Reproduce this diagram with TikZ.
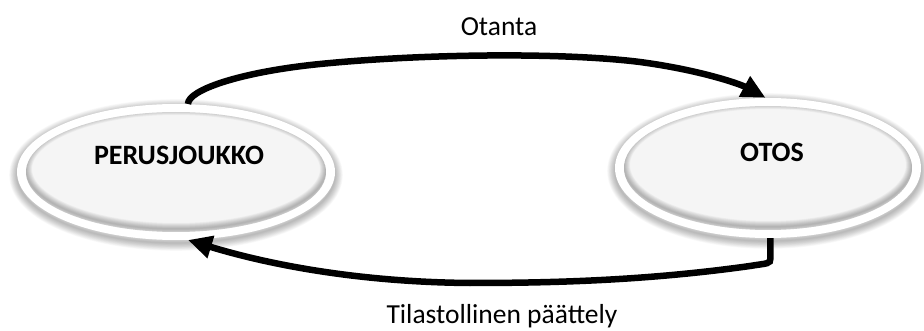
\documentclass[tikz,border=0pt]{standalone}
\usepackage{fontspec}
\setmainfont{Carlito}
\usetikzlibrary{shapes.geometric,arrows.meta}
\newcommand\myglow[4]{%
  \foreach \k in {1,...,12}{\draw[black,opacity=0.025,line width=\k*1.3pt] (#1,#2+3) ellipse ({#3pt} and {#4pt});}}
\newcommand\myinner[4]{%
  \begin{scope}
    \clip (#1,#2) ellipse ({#3pt} and {#4pt});
    \fill[black!4] (#1,#2) ellipse ({#3pt} and {#4pt});
    \foreach \k in {1,...,8}{\draw[black,opacity=0.035,line width=\k*1.5pt] (#1,#2-3) ellipse ({#3pt} and {#4pt});}
  \end{scope}}
\begin{document}
\begin{tikzpicture}[x=1pt,y=-1pt,
  blob/.style={ellipse, fill=white, inner sep=0pt, draw=none},
  lbl/.style={font=\fontsize{27.5}{33}\selectfont, inner sep=0pt},
  nodetxt/.style={font=\bfseries\fontsize{28}{33}\selectfont, inner sep=0pt},
  conn/.style={line width=6.5pt, -{Triangle[length=24pt,width=22pt]}},
]
\useasboundingbox[fill=white] (0,0) rectangle (924,331);
% left ellipse
\myglow{176}{172}{159}{68}
\node[blob, minimum width=318pt, minimum height=136pt] (L) at (176,172) {};
\myinner{176}{172}{150}{60}
\node[nodetxt] (Lt) at (179,155) {PERUSJOUKKO};
% right ellipse
\myglow{768}{168}{153}{70}
\node[blob, minimum width=306pt, minimum height=140pt] (R) at (768,168) {};
\myinner{768}{168}{144}{62}
\node[nodetxt] (Rt) at (772,152) {OTOS};
% labels
\node[lbl] (otanta) at (499,27) {Otanta};
\node[lbl] (tila) at (502,316) {Tilastollinen päättely};
% connectors
\draw[conn] (L.80) .. controls ([yshift=14pt]L.80) and (240,72) .. (320,64)
  .. controls (420,54) and (560,52) .. (640,62)
  .. controls (700,70) and (740,84) .. (R.92);
\draw[conn] (R.-88) -- ([yshift=-20pt]R.-88)
  .. controls ([yshift=-26pt]R.-88) and (768,263) .. (750,266)
  .. controls (650,280) and (560,283) .. (470,283)
  .. controls (350,282) and (260,262) .. (L.-80);
\end{tikzpicture}
\end{document}
